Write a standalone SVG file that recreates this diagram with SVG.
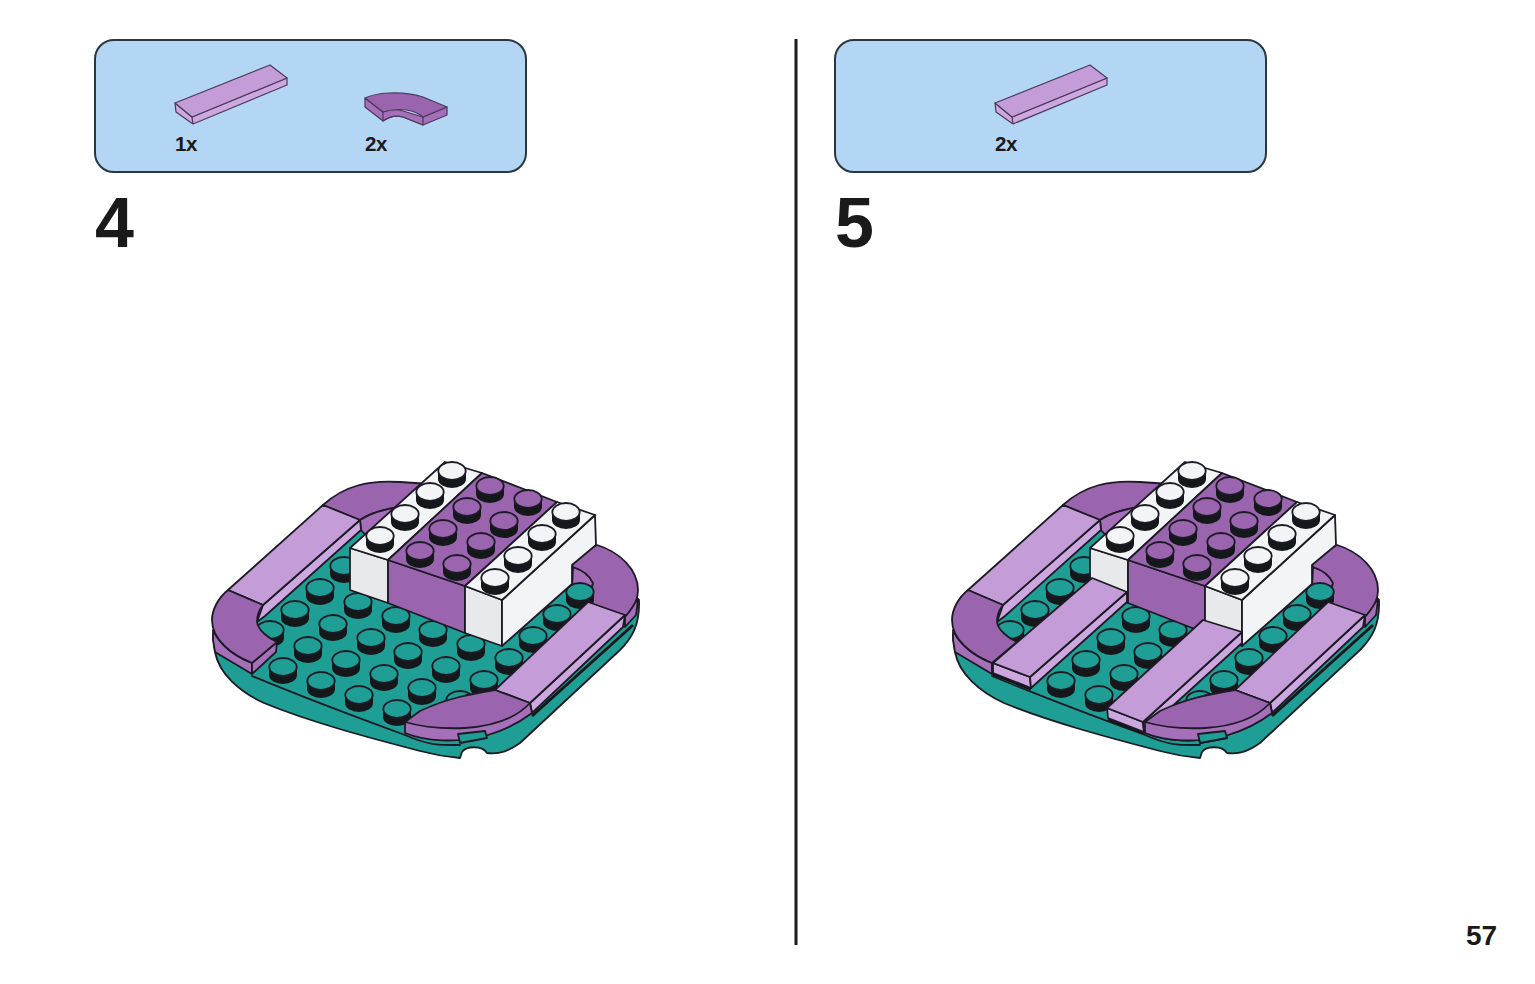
<svg xmlns="http://www.w3.org/2000/svg" width="1535" height="984" viewBox="0 0 1535 984">
<style>
.l{stroke:#1c1a24;stroke-width:1.8;stroke-linejoin:round;stroke-linecap:round}
.i{stroke:#4a3a58;stroke-width:1.2;stroke-linejoin:round}
.n{fill:none}
.dp{fill:#9a64ae}
.dps{fill:#a56fba}
.lp{fill:#c49cd8}
.lps{fill:#cca7e0}
.t{fill:#1f9e95}
.w{fill:#f3f4f5}
.wf{fill:#e7e9eb}
.panel{fill:#b2d6f3;stroke:#2b3640;stroke-width:2}
text{font-family:"Liberation Sans",Arial,sans-serif;font-weight:700;fill:#1a1a1a}
.qty{font-size:20.500px;letter-spacing:-.4px}
.num{font-size:70px}
</style>
<defs>
<path id="sb" d="M-14,0V8A14,9 0 0 0 14,8V0Z" fill="#15181a"/>
<g id="stud-t"><use href="#sb"/><ellipse rx="13.700" ry="9" class="t l"/></g>
<g id="stud-p"><use href="#sb"/><ellipse rx="13.700" ry="9" class="dp l"/></g>
<g id="stud-w"><use href="#sb"/><ellipse rx="13.700" ry="9" class="w l"/></g>
<g id="icon-tile">
<path class="lps i" d="M175,103L192,117L287,78V85L193,124L176,112Z"/>
<path class="lp i" d="M175,103L270,65L287,78L192,117Z"/>
<path class="i n" d="M192,117L193,124"/>
</g>
<g id="corner-bottom">
<path class="dps l" d="M405,722V733C425,741 455,744 488,735C505,730 520,722 532,713L530,703Z"/>
<path class="t l" d="M458,734L485,731L487,738L460,743Z"/>
<path class="dp l" d="M405,722L420,711C445,699 470,694 495,690L530,703C518,716 498,726 465,728C442,729 422,727 405,722Z"/>
</g>
<g id="scene">
<path class="t l" d="M213,635L215,652C219,674 240,692 264,703C310,722 370,738 420,751C435,755 448,757 460,758L462,752C466,746 482,745 487,753C500,755 510,750 520,743L620,650C632,638 640,625 639,600L600,560L300,540Z"/>
<path class="t" d="M252,676L405,735L532,713L630,620L500,500L330,520L240,600Z"/>
<path class="l n" d="M252,676C300,696 350,715 405,735C430,746 440,745 460,745"/>
<path d="M532,716L633,625" class="n" stroke="#15181a" stroke-width="3"/>
<g id="ring-back">
<path class="dp l" d="M323,505C345,485 370,480 400,482L430,484L440,500L400,507C385,509 372,512 360,520Z"/>
<path class="dps l" d="M360,520C372,512 385,509 400,507L370,540L361,530Z"/>
<path class="lps l" d="M263,605L360,520L361,530L265,616L257,622Z"/>
<path class="lp l" d="M228,590L323,505L360,520L263,605Z"/>
<path class="dps l" d="M573,567C582,570 590,576 593,583L590,598L572,590Z"/>
<path class="dps l" d="M588,602L625,615V627L636,615L638,600L625,610Z"/>
<path class="dp l" d="M570,560L597,545C620,552 638,570 638,590C638,598 636,604 625,617L588,602L593,583C590,576 582,570 573,567Z"/>
</g>
<g id="studs-plate">
<use href="#stud-t" x="283" y="667"/><use href="#stud-t" x="321" y="681"/><use href="#stud-t" x="359" y="695"/><use href="#stud-t" x="397" y="709"/>
<use href="#stud-t" x="270" y="630"/><use href="#stud-t" x="308" y="646"/><use href="#stud-t" x="346" y="660"/><use href="#stud-t" x="384" y="674"/><use href="#stud-t" x="422" y="688"/><use href="#stud-t" x="460" y="700"/>
<use href="#stud-t" x="295" y="610"/><use href="#stud-t" x="333" y="624"/><use href="#stud-t" x="371" y="638"/><use href="#stud-t" x="408" y="652"/><use href="#stud-t" x="446" y="666"/><use href="#stud-t" x="484" y="680"/>
<use href="#stud-t" x="320" y="588"/><use href="#stud-t" x="358" y="602"/><use href="#stud-t" x="396" y="616"/><use href="#stud-t" x="433" y="630"/><use href="#stud-t" x="471" y="644"/><use href="#stud-t" x="509" y="658"/>
<use href="#stud-t" x="344" y="566"/><use href="#stud-t" x="533" y="636"/><use href="#stud-t" x="557" y="614"/><use href="#stud-t" x="580" y="592"/>
</g>
<g id="ring-front">
<path class="dps l" d="M213,630C220,645 235,656 252,663V674L215,652L213,640Z"/>
<path class="dps l" d="M252,663L277,642L276,652L252,674Z"/>
<path class="dp l" d="M228,590C218,598 212,610 212,620C212,640 232,655 252,663L277,642C268,638 258,630 257,622C257,615 259,610 263,605Z"/>
<path class="lps l" d="M530,703L625,615L623,627L532,713Z"/>
<path class="lp l" d="M495,690L588,602L625,615L530,703Z"/>
<use href="#corner-bottom"/>
</g>
<g id="brick">
<path class="wf l" d="M350,548L388,560V603L350,590Z"/>
<path class="dp l" d="M388,560L465,586V633L388,603Z"/>
<path class="wf l" d="M465,586L502,600V646L465,633Z"/>
<path class="w l" d="M502,600L595,515L596,545L572,565V584L502,646Z"/>
<path class="w l" d="M350,548L445,462L482,473L388,560Z"/>
<path class="dp l" d="M388,560L482,473L557,502L465,586Z"/>
<path class="w l" d="M465,586L557,502L595,515L502,600Z"/>
<use href="#stud-w" x="452" y="471"/><use href="#stud-w" x="430" y="492"/><use href="#stud-w" x="405" y="514"/><use href="#stud-w" x="380" y="536"/>
<use href="#stud-p" x="490" y="486"/><use href="#stud-p" x="467" y="507"/><use href="#stud-p" x="443" y="529"/><use href="#stud-p" x="420" y="551"/>
<use href="#stud-p" x="528" y="499"/><use href="#stud-p" x="504" y="521"/><use href="#stud-p" x="481" y="542"/><use href="#stud-p" x="457" y="564"/>
<use href="#stud-w" x="566" y="512"/><use href="#stud-w" x="542" y="534"/><use href="#stud-w" x="518" y="556"/><use href="#stud-w" x="495" y="578"/>
</g>
</g>
</defs>
<rect width="1535" height="984" fill="#fff"/>
<g id="divider"><rect x="794.500" y="39" width="3" height="906" fill="#1c1c1c"/></g>
<g id="step-4-parts">
<rect class="panel" x="95" y="40" width="431" height="132" rx="19"/>
<use href="#icon-tile"/>
<path class="dps i" d="M365,98V107L383,121C390,116 396,115 403,117L423,125L447,115V107L423,117L383,112Z"/>
<path class="dps i" d="M383,112C390,109 396,109 403,111L423,117V125L403,117C396,115 390,116 383,121Z"/>
<path class="dp i" d="M365,98C375,93 400,90 423,97L447,107L423,117C415,110 400,107 383,112Z"/>
<text class="qty" x="175" y="151">1x</text>
<text class="qty" x="365" y="151">2x</text>
</g>
<text id="step-4-number" class="num" x="95" y="247">4</text>
<g id="step-4"><use href="#scene"/></g>
<g id="step-5-parts">
<rect class="panel" x="835" y="40" width="431" height="132" rx="19"/>
<use href="#icon-tile" x="820"/>
<text class="qty" x="995" y="151">2x</text>
</g>
<text id="step-5-number" class="num" x="835" y="247">5</text>
<g id="step-5" transform="translate(740 0)">
<use href="#scene"/>
<g id="new-tile-left">
<path d="M253,674L291,689" class="n" stroke="#15181a" stroke-width="3"/>
<path class="lps l" d="M253,663L290,677L291,688L253,673Z"/>
<path class="lps l" d="M290,677L387,592V602L291,688Z"/>
<path class="lp l" d="M253,663L352,578L387,592L290,677Z"/>
</g>
<g id="new-tile-right">
<path d="M368,719L404,733" class="n" stroke="#15181a" stroke-width="3"/>
<path class="lps l" d="M367,708L403,722L404,732L368,718Z"/>
<path class="lps l" d="M403,722L502,632V643L404,732Z"/>
<path class="lp l" d="M367,708L463,620L502,632L403,722Z"/>
<use href="#corner-bottom"/>
</g>
</g>
<text id="page-number" x="1466" y="945" font-size="28">57</text>
</svg>
